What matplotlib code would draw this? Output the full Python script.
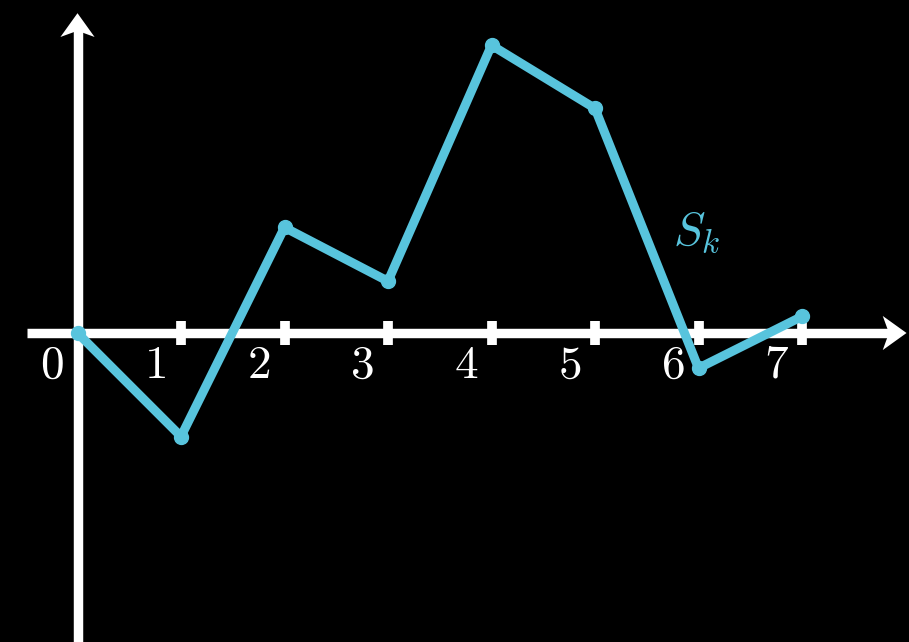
import matplotlib
matplotlib.use("Agg")
import matplotlib.pyplot as plt
from matplotlib.patches import Polygon

plt.rcParams["mathtext.fontset"] = "cm"

# Random-walk partial sums S_k
steps = [0, 1, 2, 3, 4, 5, 6, 7]
partial_sums = [0.0, -1.0, 1.02, 0.5, 2.78, 2.17, -0.34, 0.16]
tick_labels = ["0", "1", "2", "3", "4", "5", "6", "7"]
series_label = r"$S_k$"

BLUE = "#58C4DD"
WHITE = "#FFFFFF"

W, H, DPI = 909, 642, 100
unit_px = 103.5          # pixels per data unit (equal on both axes)
origin_px = (77.5, 333)  # origin position, pixels from top-left

fig = plt.figure(figsize=(W / DPI, H / DPI), dpi=DPI, facecolor="black")
ax = fig.add_axes([0, 0, 1, 1])
ax.set_facecolor("black")
ax.set_xlim(-origin_px[0] / unit_px, (W - origin_px[0]) / unit_px)
ax.set_ylim(-(H - origin_px[1]) / unit_px, origin_px[1] / unit_px)
ax.set_aspect("equal")
ax.axis("off")

axis_lw = 6.8
x_start = -0.49
x_end = 8.01
y_end = 3.09

# axis lines
ax.plot([x_start, x_end - 0.15], [0, 0], color=WHITE, lw=axis_lw,
        solid_capstyle="butt", zorder=2)
ax.plot([0, 0], [ax.get_ylim()[0], y_end - 0.15], color=WHITE, lw=axis_lw,
        solid_capstyle="butt", zorder=2)


def arrow_head(tip, direction, length=0.23, half_w=0.165, notch=0.06):
    tx, ty = tip
    dx, dy = direction
    px, py = -dy, dx
    bx, by = tx - dx * length, ty - dy * length
    pts = [
        (tx, ty),
        (bx + px * half_w, by + py * half_w),
        (tx - dx * (length - notch), ty - dy * (length - notch)),
        (bx - px * half_w, by - py * half_w),
    ]
    ax.add_patch(Polygon(pts, closed=True, color=WHITE, lw=0, zorder=3))


arrow_head((x_end, 0), (1, 0))
arrow_head((0, y_end), (0, 1))

# tick marks
tick_pos = steps[1:]
ax.vlines(tick_pos, -0.12, 0.12, color=WHITE, lw=7.0, zorder=2)

# tick labels
for s, lab in zip(steps, tick_labels):
    ax.text(s - 0.25, -0.31, "$" + lab + "$", color=WHITE, fontsize=34,
            ha="center", va="center", zorder=4)

# the walk
ax.plot(steps, partial_sums, color=BLUE, lw=6.5, solid_joinstyle="round",
        solid_capstyle="round", marker="o", markersize=10,
        markerfacecolor=BLUE, markeredgecolor=BLUE, zorder=5)

ax.text(5.75, 0.85, series_label, color=BLUE, fontsize=34,
        ha="left", va="baseline", zorder=4)

fig.savefig("out.png", dpi=DPI, facecolor="black")
